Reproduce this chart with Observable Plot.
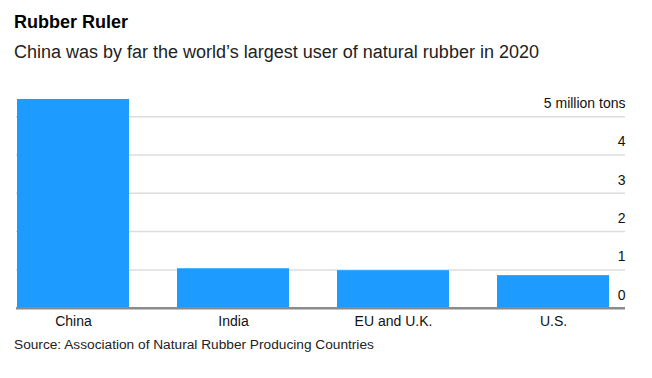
<!DOCTYPE html>
<html><head><meta charset="utf-8">
<script src="https://cdn.jsdelivr.net/npm/d3@7"></script>
<script src="https://cdn.jsdelivr.net/npm/@observablehq/plot@0.6"></script>
<style>
body{margin:0;background:#fff;font-family:"Liberation Sans",Arial,sans-serif;}
#wrap{width:652px;height:378px;position:relative;overflow:hidden}
.title{position:absolute;left:14px;top:12px;font-weight:bold;font-size:18px;line-height:20px;color:#000}
.sub{position:absolute;left:14px;top:42px;font-size:18px;line-height:20px;color:#222}
.src{position:absolute;left:14px;top:337px;font-size:13.7px;line-height:16px;color:#222}
#chart{position:absolute;left:0;top:64px}
</style></head>
<body>
<div id="wrap">
<div class="title">Rubber Ruler</div>
<div class="sub">China was by far the world’s largest user of natural rubber in 2020</div>
<div id="chart"></div>
<div class="src">Source: Association of Natural Rubber Producing Countries</div>
</div>
<script>
const categories = ["China", "India", "EU and U.K.", "U.S."];
const values = [5.45, 1.03, 0.98, 0.85];
const yTicks = [0, 1, 2, 3, 4, 5];
const yTickLabels = ["0", "1", "2", "3", "4", "5 million tons"];

const data = categories.map((c, i) => ({country: c, value: values[i]}));

const chart = Plot.plot({
  width: 652,
  height: 272,
  marginLeft: 16,
  marginRight: 27,
  marginTop: 0,
  marginBottom: 28,
  style: {fontFamily: "'Liberation Sans', Arial, sans-serif", background: "#fff"},
  x: {domain: categories, range: [16, 609], paddingInner: 0.3, paddingOuter: 0, label: null},
  y: {domain: [0, 5], range: [243.7, 52.2], label: null, axis: null},
  marks: [
    Plot.ruleY(yTicks.slice(1), {stroke: "#dcdcdc", strokeWidth: 1.5}),
    Plot.barY(data, {x: "country", y: "value", fill: "#1e9bfe"}),
    Plot.ruleY([0], {stroke: "#8a8a8a", strokeWidth: 2.5}),
    Plot.text(yTicks, {y: d => d, text: (d, i) => yTickLabels[i], frameAnchor: "right", textAnchor: "end", dy: -13, fontSize: 14, fill: "#111"}),
    Plot.axisX({tickSize: 0, tickPadding: 8, fontSize: 14, label: null, color: "#111"})
  ]
});
document.getElementById("chart").appendChild(chart);
</script>
</body></html>
